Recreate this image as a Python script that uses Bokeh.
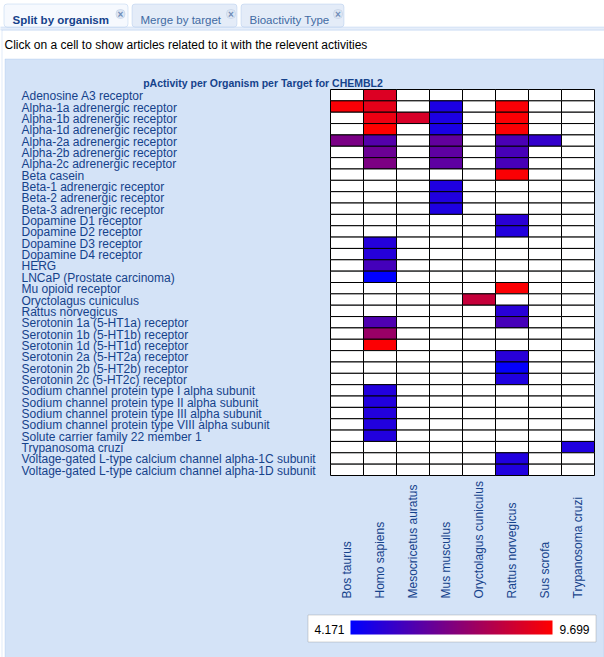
import math
import numpy as np
from bokeh.plotting import figure
from bokeh.models import (ColumnDataSource, FactorRange, Range1d, LinearColorMapper,
                          ColorBar, FixedTicker, BoxAnnotation, Label,
                          CategoricalScale, LinearScale, CoordinateMapping)
from bokeh.core.properties import value
from bokeh.transform import transform
from bokeh.embed import file_html
from bokeh.resources import INLINE

# ---------------- data ----------------
targets = [
    "Adenosine A3 receptor",
    "Alpha-1a adrenergic receptor",
    "Alpha-1b adrenergic receptor",
    "Alpha-1d adrenergic receptor",
    "Alpha-2a adrenergic receptor",
    "Alpha-2b adrenergic receptor",
    "Alpha-2c adrenergic receptor",
    "Beta casein",
    "Beta-1 adrenergic receptor",
    "Beta-2 adrenergic receptor",
    "Beta-3 adrenergic receptor",
    "Dopamine D1 receptor",
    "Dopamine D2 receptor",
    "Dopamine D3 receptor",
    "Dopamine D4 receptor",
    "HERG",
    "LNCaP (Prostate carcinoma)",
    "Mu opioid receptor",
    "Oryctolagus cuniculus",
    "Rattus norvegicus",
    "Serotonin 1a (5-HT1a) receptor",
    "Serotonin 1b (5-HT1b) receptor",
    "Serotonin 1d (5-HT1d) receptor",
    "Serotonin 2a (5-HT2a) receptor",
    "Serotonin 2b (5-HT2b) receptor",
    "Serotonin 2c (5-HT2c) receptor",
    "Sodium channel protein type I alpha subunit",
    "Sodium channel protein type II alpha subunit",
    "Sodium channel protein type III alpha subunit",
    "Sodium channel protein type VIII alpha subunit",
    "Solute carrier family 22 member 1",
    "Trypanosoma cruzi",
    "Voltage-gated L-type calcium channel alpha-1C subunit",
    "Voltage-gated L-type calcium channel alpha-1D subunit",
]

organisms = [
    "Bos taurus", "Homo sapiens", "Mesocricetus auratus", "Mus musculus",
    "Oryctolagus cuniculus", "Rattus norvegicus", "Sus scrofa", "Trypanosoma cruzi",
]

cell_target = [
    "Adenosine A3 receptor",
    "Alpha-1a adrenergic receptor", "Alpha-1a adrenergic receptor",
    "Alpha-1a adrenergic receptor", "Alpha-1a adrenergic receptor",
    "Alpha-1b adrenergic receptor", "Alpha-1b adrenergic receptor",
    "Alpha-1b adrenergic receptor", "Alpha-1b adrenergic receptor",
    "Alpha-1d adrenergic receptor", "Alpha-1d adrenergic receptor",
    "Alpha-1d adrenergic receptor",
    "Alpha-2a adrenergic receptor", "Alpha-2a adrenergic receptor",
    "Alpha-2a adrenergic receptor", "Alpha-2a adrenergic receptor",
    "Alpha-2a adrenergic receptor",
    "Alpha-2b adrenergic receptor", "Alpha-2b adrenergic receptor",
    "Alpha-2b adrenergic receptor",
    "Alpha-2c adrenergic receptor", "Alpha-2c adrenergic receptor",
    "Alpha-2c adrenergic receptor",
    "Beta casein",
    "Beta-1 adrenergic receptor",
    "Beta-2 adrenergic receptor",
    "Beta-3 adrenergic receptor",
    "Dopamine D1 receptor",
    "Dopamine D2 receptor",
    "Dopamine D3 receptor",
    "Dopamine D4 receptor",
    "HERG",
    "LNCaP (Prostate carcinoma)",
    "Mu opioid receptor",
    "Oryctolagus cuniculus",
    "Rattus norvegicus",
    "Serotonin 1a (5-HT1a) receptor", "Serotonin 1a (5-HT1a) receptor",
    "Serotonin 1b (5-HT1b) receptor",
    "Serotonin 1d (5-HT1d) receptor",
    "Serotonin 2a (5-HT2a) receptor",
    "Serotonin 2b (5-HT2b) receptor",
    "Serotonin 2c (5-HT2c) receptor",
    "Sodium channel protein type I alpha subunit",
    "Sodium channel protein type II alpha subunit",
    "Sodium channel protein type III alpha subunit",
    "Sodium channel protein type VIII alpha subunit",
    "Solute carrier family 22 member 1",
    "Trypanosoma cruzi",
    "Voltage-gated L-type calcium channel alpha-1C subunit",
    "Voltage-gated L-type calcium channel alpha-1D subunit",
]

cell_organism = [
    "Homo sapiens",
    "Bos taurus", "Homo sapiens", "Mus musculus", "Rattus norvegicus",
    "Homo sapiens", "Mesocricetus auratus", "Mus musculus", "Rattus norvegicus",
    "Homo sapiens", "Mus musculus", "Rattus norvegicus",
    "Bos taurus", "Homo sapiens", "Mus musculus", "Rattus norvegicus", "Sus scrofa",
    "Homo sapiens", "Mus musculus", "Rattus norvegicus",
    "Homo sapiens", "Mus musculus", "Rattus norvegicus",
    "Rattus norvegicus",
    "Mus musculus",
    "Mus musculus",
    "Mus musculus",
    "Rattus norvegicus",
    "Rattus norvegicus",
    "Homo sapiens",
    "Homo sapiens",
    "Homo sapiens",
    "Homo sapiens",
    "Rattus norvegicus",
    "Oryctolagus cuniculus",
    "Rattus norvegicus",
    "Homo sapiens", "Rattus norvegicus",
    "Homo sapiens",
    "Homo sapiens",
    "Rattus norvegicus",
    "Rattus norvegicus",
    "Rattus norvegicus",
    "Homo sapiens",
    "Homo sapiens",
    "Homo sapiens",
    "Homo sapiens",
    "Homo sapiens",
    "Trypanosoma cruzi",
    "Rattus norvegicus",
    "Rattus norvegicus",
]

pactivity = [
    8.93,
    9.55, 9.15, 4.78, 9.55,
    9.31, 8.82, 4.78, 9.60,
    9.699, 4.74, 9.60,
    6.82, 5.99, 6.30, 5.77, 5.28,
    6.49, 6.22, 5.72,
    6.85, 6.22, 5.72,
    9.60,
    4.85,
    4.88,
    4.84,
    5.08,
    4.92,
    4.95,
    4.98,
    5.65,
    4.171,
    9.60,
    8.43,
    5.05,
    5.88, 5.70,
    7.49,
    9.62,
    5.04,
    4.27,
    4.86,
    4.92,
    4.90,
    4.92,
    4.90,
    4.90,
    4.86,
    4.88,
    4.88,
]

chart_title = "pActivity per Organism per Target for CHEMBL2"
tab_names = ["Split by organism", "Merge by target", "Bioactivity Type"]
hint_text = "Click on a cell to show articles related to it with the relevent activities"

# ---------------- styling ----------------
PANEL = "#d4e3f7"
PANEL_LINE = "#99bbe8"
LABEL_COLOR = "#15428b"
FONT = "Liberation Sans"
W, H = 604, 657

low, high = min(pactivity), max(pactivity)
palette = ["#%02x00%02x" % (i, 255 - i) for i in range(256)]
mapper = LinearColorMapper(palette=palette, low=low, high=high, nan_color="white")

lookup = {(t, o): v for t, o, v in zip(cell_target, cell_organism, pactivity)}
gx, gy, gv = [], [], []
for t in targets:
    for o in organisms:
        gx.append(o)
        gy.append(t)
        gv.append(lookup.get((t, o), np.nan))
source = ColumnDataSource(dict(org=gx, target=gy, val=np.array(gv, dtype=float)))

# one page-sized figure; its own data units are pixels (y downwards)
p = figure(width=W, height=H, x_range=Range1d(0, W), y_range=Range1d(H, 0),
           x_axis_type=None, y_axis_type=None, min_border=0,
           toolbar_location=None, output_backend="svg")
p.outline_line_color = None
p.background_fill_color = "white"
p.border_fill_color = "white"

# the heat-map block is mapped onto this part of the page
org_range = FactorRange(factors=organisms)
target_range = FactorRange(factors=list(reversed(targets)))
heat_coords = CoordinateMapping(x_source=org_range, x_scale=CategoricalScale(),
                                x_target=Range1d(330, 594),
                                y_source=target_range, y_scale=CategoricalScale(),
                                y_target=Range1d(475, 89))
row_coords = CoordinateMapping(x_source=Range1d(0, W), x_scale=LinearScale(),
                               x_target=Range1d(0, W),
                               y_source=target_range, y_scale=CategoricalScale(),
                               y_target=Range1d(475, 89))
col_coords = CoordinateMapping(x_source=org_range, x_scale=CategoricalScale(),
                               x_target=Range1d(330, 594),
                               y_source=Range1d(H, 0), y_scale=LinearScale(),
                               y_target=Range1d(H, 0))


def box(**kw):
    kw.setdefault("level", "underlay")
    kw.setdefault("fill_alpha", 1)
    p.add_layout(BoxAnnotation(**kw))


# ---------------- page chrome ----------------
box(left=4.5, right=603.5, top=58.5, bottom=H + 20, fill_color=PANEL,
    line_color=PANEL_LINE, line_width=1)
box(left=1.5, right=W + 20, top=29.5, bottom=H + 20, fill_alpha=0,
    line_color=PANEL_LINE, line_width=1)
box(left=-10, right=W + 20, top=26.5, bottom=29.5, fill_color="#e6eefa",
    line_color=PANEL_LINE, line_width=1)

tab_edges = [(3.5, 127.5), (131.5, 236.5), (240.5, 343.5)]
tab_text_x = [12, 140, 249]
close_cx = [120, 230.5, 337.5]
for i, (name, (l, r)) in enumerate(zip(tab_names, tab_edges)):
    active = i == 0
    box(left=l, right=r, top=3.5, bottom=26.5,
        fill_color="#f6f9fe" if active else "#e4ecf8",
        line_color="#8db2e3", line_width=1, border_radius=3)
    p.add_layout(Label(x=tab_text_x[i], y=19.5, text=name, text_font=FONT,
                       text_font_size="11.5px",
                       text_font_style="bold" if active else "normal",
                       text_color=LABEL_COLOR if active else "#416aa3",
                       text_align="left", text_baseline="alphabetic"))
    cx = close_cx[i]
    box(left=cx - 4.5, right=cx + 4.5, top=9, bottom=18, fill_color="#dde6f3",
        line_color="#9eb2d0", line_width=1, border_radius=4)
    p.add_layout(Label(x=cx, y=13.5, text="×", text_font=FONT, text_font_size="10px",
                       text_font_style="bold", text_color="#6f8cb8",
                       text_align="center", text_baseline="middle"))

p.add_layout(Label(x=4, y=44.5, text=hint_text, text_font=FONT, text_font_size="12px",
                   text_color="black", text_align="left", text_baseline="alphabetic"))
p.add_layout(Label(x=262.5, y=82, text=chart_title, text_font=FONT,
                   text_font_size="10.5px", text_font_style="bold",
                   text_color=LABEL_COLOR, text_align="center",
                   text_baseline="alphabetic"))

# ---------------- heat map ----------------
r_heat = p.rect(x="org", y="target", width=1, height=1, source=source,
                fill_color=transform("val", mapper), line_color="black", line_width=1)
r_heat.coordinates = heat_coords

# ---------------- row labels ----------------
r_rows = p.text(x=21, y="target", text="target",
                source=ColumnDataSource(dict(target=targets)),
                text_font=value(FONT), text_font_size="12px", text_color=LABEL_COLOR,
                text_align="left", text_baseline="middle", y_offset=1)
r_rows.coordinates = row_coords

# ---------------- column labels ----------------
r_cols = p.text(x="org", y=598, text="org", source=ColumnDataSource(dict(org=organisms)),
                angle=math.pi / 2, text_font=value(FONT), text_font_size="12px",
                text_color=LABEL_COLOR, text_align="left", text_baseline="middle")
r_cols.coordinates = col_coords

# ---------------- colour legend ----------------
box(left=307.5, right=595.5, top=614.5, bottom=641.5, fill_color="white",
    line_color="#7a7a7a", line_width=1)
cb = ColorBar(color_mapper=mapper, orientation="horizontal", width=202, height=14,
              location=(350, 23), padding=0, margin=0,
              ticker=FixedTicker(ticks=[]), major_tick_line_color=None,
              minor_tick_line_color=None, bar_line_color=None,
              border_line_color=None, background_fill_alpha=0)
p.add_layout(cb)
p.add_layout(Label(x=314, y=629, text=f"{low:.3f}", text_font=FONT,
                   text_font_size="12px", text_color="black",
                   text_align="left", text_baseline="middle"))
p.add_layout(Label(x=589, y=629, text=f"{high:.3f}", text_font=FONT,
                   text_font_size="12px", text_color="black",
                   text_align="right", text_baseline="middle"))

open("out.html", "w").write(file_html(p, INLINE))
